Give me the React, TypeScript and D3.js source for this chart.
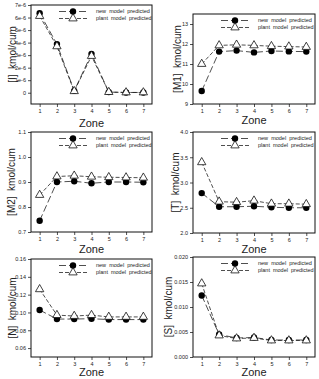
import React, { useEffect, useRef } from "react";
import * as d3 from "d3";

const zones = [1, 2, 3, 4, 5, 6, 7];

// concentration profiles along the reactor zones, kmol/cum
const iNew = [6.35e-6, 3.88e-6, 0.15e-6, 3.1e-6, 0.05e-6, 0.02e-6, 0.02e-6];
const iPlant = [6.12e-6, 3.7e-6, 0.12e-6, 2.93e-6, 0.05e-6, 0.02e-6, 0.02e-6];
const iTicks = [0, 1e-6, 2e-6, 3e-6, 4e-6, 5e-6, 6e-6, 7e-6];

const m1New = [9.65, 11.62, 11.67, 11.58, 11.65, 11.63, 11.62];
const m1Plant = [11.0, 11.93, 11.96, 11.93, 11.89, 11.87, 11.85];
const m1Ticks = [9, 10, 11, 12, 13];

const m2New = [0.745, 0.9, 0.903, 0.895, 0.9, 0.9, 0.899];
const m2Plant = [0.848, 0.922, 0.925, 0.921, 0.919, 0.918, 0.917];
const m2Ticks = [0.7, 0.8, 0.9, 1.0, 1.1];

const tNew = [2.79, 2.52, 2.52, 2.53, 2.51, 2.5, 2.5];
const tPlant = [3.4, 2.62, 2.61, 2.64, 2.58, 2.58, 2.57];
const tTicks = [2.0, 2.5, 3.0, 3.5, 4.0];

const nNew = [0.1027, 0.0926, 0.0926, 0.093, 0.092, 0.092, 0.092];
const nPlant = [0.126, 0.097, 0.096, 0.097, 0.095, 0.095, 0.095];
const nTicks = [0.06, 0.08, 0.1, 0.12, 0.14, 0.16];

const sNew = [0.0123, 0.0045, 0.0038, 0.0039, 0.0034, 0.0034, 0.0034];
const sPlant = [0.0147, 0.0043, 0.0037, 0.0038, 0.0033, 0.0033, 0.0033];
const sTicks = [0, 0.005, 0.01, 0.015, 0.02];

const legendLabels = ["new  model  predicted", "plant  model  predicted"];

const FONT = "'Liberation Sans', Arial, sans-serif";

const panels = [
  { title: "[I]  kmol/cum", newVals: iNew, plantVals: iPlant, ticks: iTicks,
    fmt: (d) => (d === 0 ? "0" : `${Math.round(d * 1e6)}e-6`),
    domain: [-0.9e-6, 7e-6], left: 31, right: 152, top: 5, bottom: 104, zoneY: 123, titleX: 12 },
  { title: "[M1]  kmol/cum", newVals: m1New, plantVals: m1Plant, ticks: m1Ticks,
    fmt: d3.format("d"),
    domain: [9, 13.5], left: 193, right: 315, top: 14, bottom: 104, zoneY: 120, titleX: 177 },
  { title: "[M2]  kmol/cum", newVals: m2New, plantVals: m2Plant, ticks: m2Ticks,
    fmt: d3.format(".1f"),
    domain: [0.7, 1.1], left: 31, right: 152, top: 132, bottom: 232, zoneY: 249, titleX: 11 },
  { title: "[T]  kmol/cum", newVals: tNew, plantVals: tPlant, ticks: tTicks,
    fmt: d3.format(".1f"),
    domain: [2.0, 4.0], left: 193, right: 315, top: 132, bottom: 233, zoneY: 249, titleX: 175 },
  { title: "[N]  kmol/cum", newVals: nNew, plantVals: nPlant, ticks: nTicks,
    fmt: d3.format(".2f"),
    domain: [0.05, 0.16], left: 31, right: 152, top: 259, bottom: 357, zoneY: 372, titleX: 12 },
  { title: "[S]  kmol/cum", newVals: sNew, plantVals: sPlant, ticks: sTicks,
    fmt: d3.format(".3f"),
    domain: [0, 0.02], left: 193, right: 315, top: 257, bottom: 357, zoneY: 372, titleX: 168 },
];

const NEW_DASH = "7,3";
const PLANT_DASH = "4,2";
const tri = d3.symbol(d3.symbolTriangle).size(30);

export default function App() {
  const svgRef = useRef(null);

  useEffect(() => {
    const svg = d3.select(svgRef.current);
    svg.selectAll("*").remove();

    panels.forEach((p) => {
      const g = svg.append("g");
      const x = d3.scaleLinear().domain([0.5, 7.5]).range([p.left, p.right]);
      const y = d3.scaleLinear().domain(p.domain).range([p.bottom, p.top]);

      // axes
      const yAxis = g.append("g")
        .attr("transform", `translate(${p.left},0)`)
        .call(d3.axisLeft(y).tickValues(p.ticks).tickFormat(p.fmt).tickSize(3).tickPadding(2));
      const xAxis = g.append("g")
        .attr("transform", `translate(0,${p.bottom})`)
        .call(d3.axisBottom(x).tickValues(zones).tickFormat(d3.format("d")).tickSize(3).tickPadding(2));
      [yAxis, xAxis].forEach((a) => {
        a.select(".domain").remove();
        a.selectAll("text").attr("font-size", 5.5).attr("font-family", FONT).attr("fill", "#222");
        a.selectAll("line").attr("stroke", "#222").attr("stroke-width", 0.8);
      });

      // frame
      g.append("rect")
        .attr("x", p.left).attr("y", p.top)
        .attr("width", p.right - p.left).attr("height", p.bottom - p.top)
        .attr("fill", "none").attr("stroke", "#111").attr("stroke-width", 1);

      const line = d3.line().x((d, i) => x(zones[i])).y((d) => y(d));

      g.append("path").datum(p.plantVals)
        .attr("d", line).attr("fill", "none")
        .attr("stroke", "#222").attr("stroke-width", 0.8).attr("stroke-dasharray", PLANT_DASH);
      g.append("path").datum(p.newVals)
        .attr("d", line).attr("fill", "none")
        .attr("stroke", "#222").attr("stroke-width", 0.8).attr("stroke-dasharray", NEW_DASH);

      g.selectAll(".pt-new").data(p.newVals).join("circle")
        .attr("cx", (d, i) => x(zones[i])).attr("cy", (d) => y(d))
        .attr("r", 3.2).attr("fill", "#000");
      g.selectAll(".pt-plant").data(p.plantVals).join("path")
        .attr("d", tri)
        .attr("transform", (d, i) => `translate(${x(zones[i])},${y(d)})`)
        .attr("fill", "#fff").attr("stroke", "#111").attr("stroke-width", 0.8);

      // legend
      const lg = g.append("g");
      legendLabels.forEach((label, k) => {
        const ly = p.top + 6.5 + k * 7;
        const lx0 = p.left + 28;
        const lx1 = p.left + 56;
        lg.append("line")
          .attr("x1", lx0).attr("x2", lx1).attr("y1", ly).attr("y2", ly)
          .attr("stroke", "#222").attr("stroke-width", 0.8)
          .attr("stroke-dasharray", k === 0 ? NEW_DASH : PLANT_DASH);
        if (k === 0) {
          lg.append("circle").attr("cx", p.left + 42).attr("cy", ly).attr("r", 3.2).attr("fill", "#000");
        } else {
          lg.append("path").attr("d", tri)
            .attr("transform", `translate(${p.left + 42},${ly})`)
            .attr("fill", "#fff").attr("stroke", "#111").attr("stroke-width", 0.8);
        }
        lg.append("text")
          .attr("x", p.left + 65).attr("y", ly).attr("dy", "0.35em")
          .attr("font-size", 5.5).attr("font-family", FONT).attr("fill", "#222")
          .style("white-space", "pre")
          .text(label);
      });

      // titles
      g.append("text")
        .attr("x", (p.left + p.right) / 2).attr("y", p.zoneY).attr("dy", "0.35em")
        .attr("text-anchor", "middle").attr("font-size", 11).attr("font-family", FONT)
        .attr("fill", "#222").text("Zone");
      g.append("text")
        .attr("transform", `translate(${p.titleX},${(p.top + p.bottom) / 2}) rotate(-90)`)
        .attr("text-anchor", "middle").attr("dy", "0.35em")
        .attr("font-size", 10).attr("font-family", FONT).attr("fill", "#222")
        .style("white-space", "pre")
        .text(p.title);
    });
  }, []);

  return (
    <svg
      ref={svgRef}
      width={319}
      height={379}
      style={{ position: "absolute", left: 0, top: 0, background: "#fff" }}
    />
  );
}
